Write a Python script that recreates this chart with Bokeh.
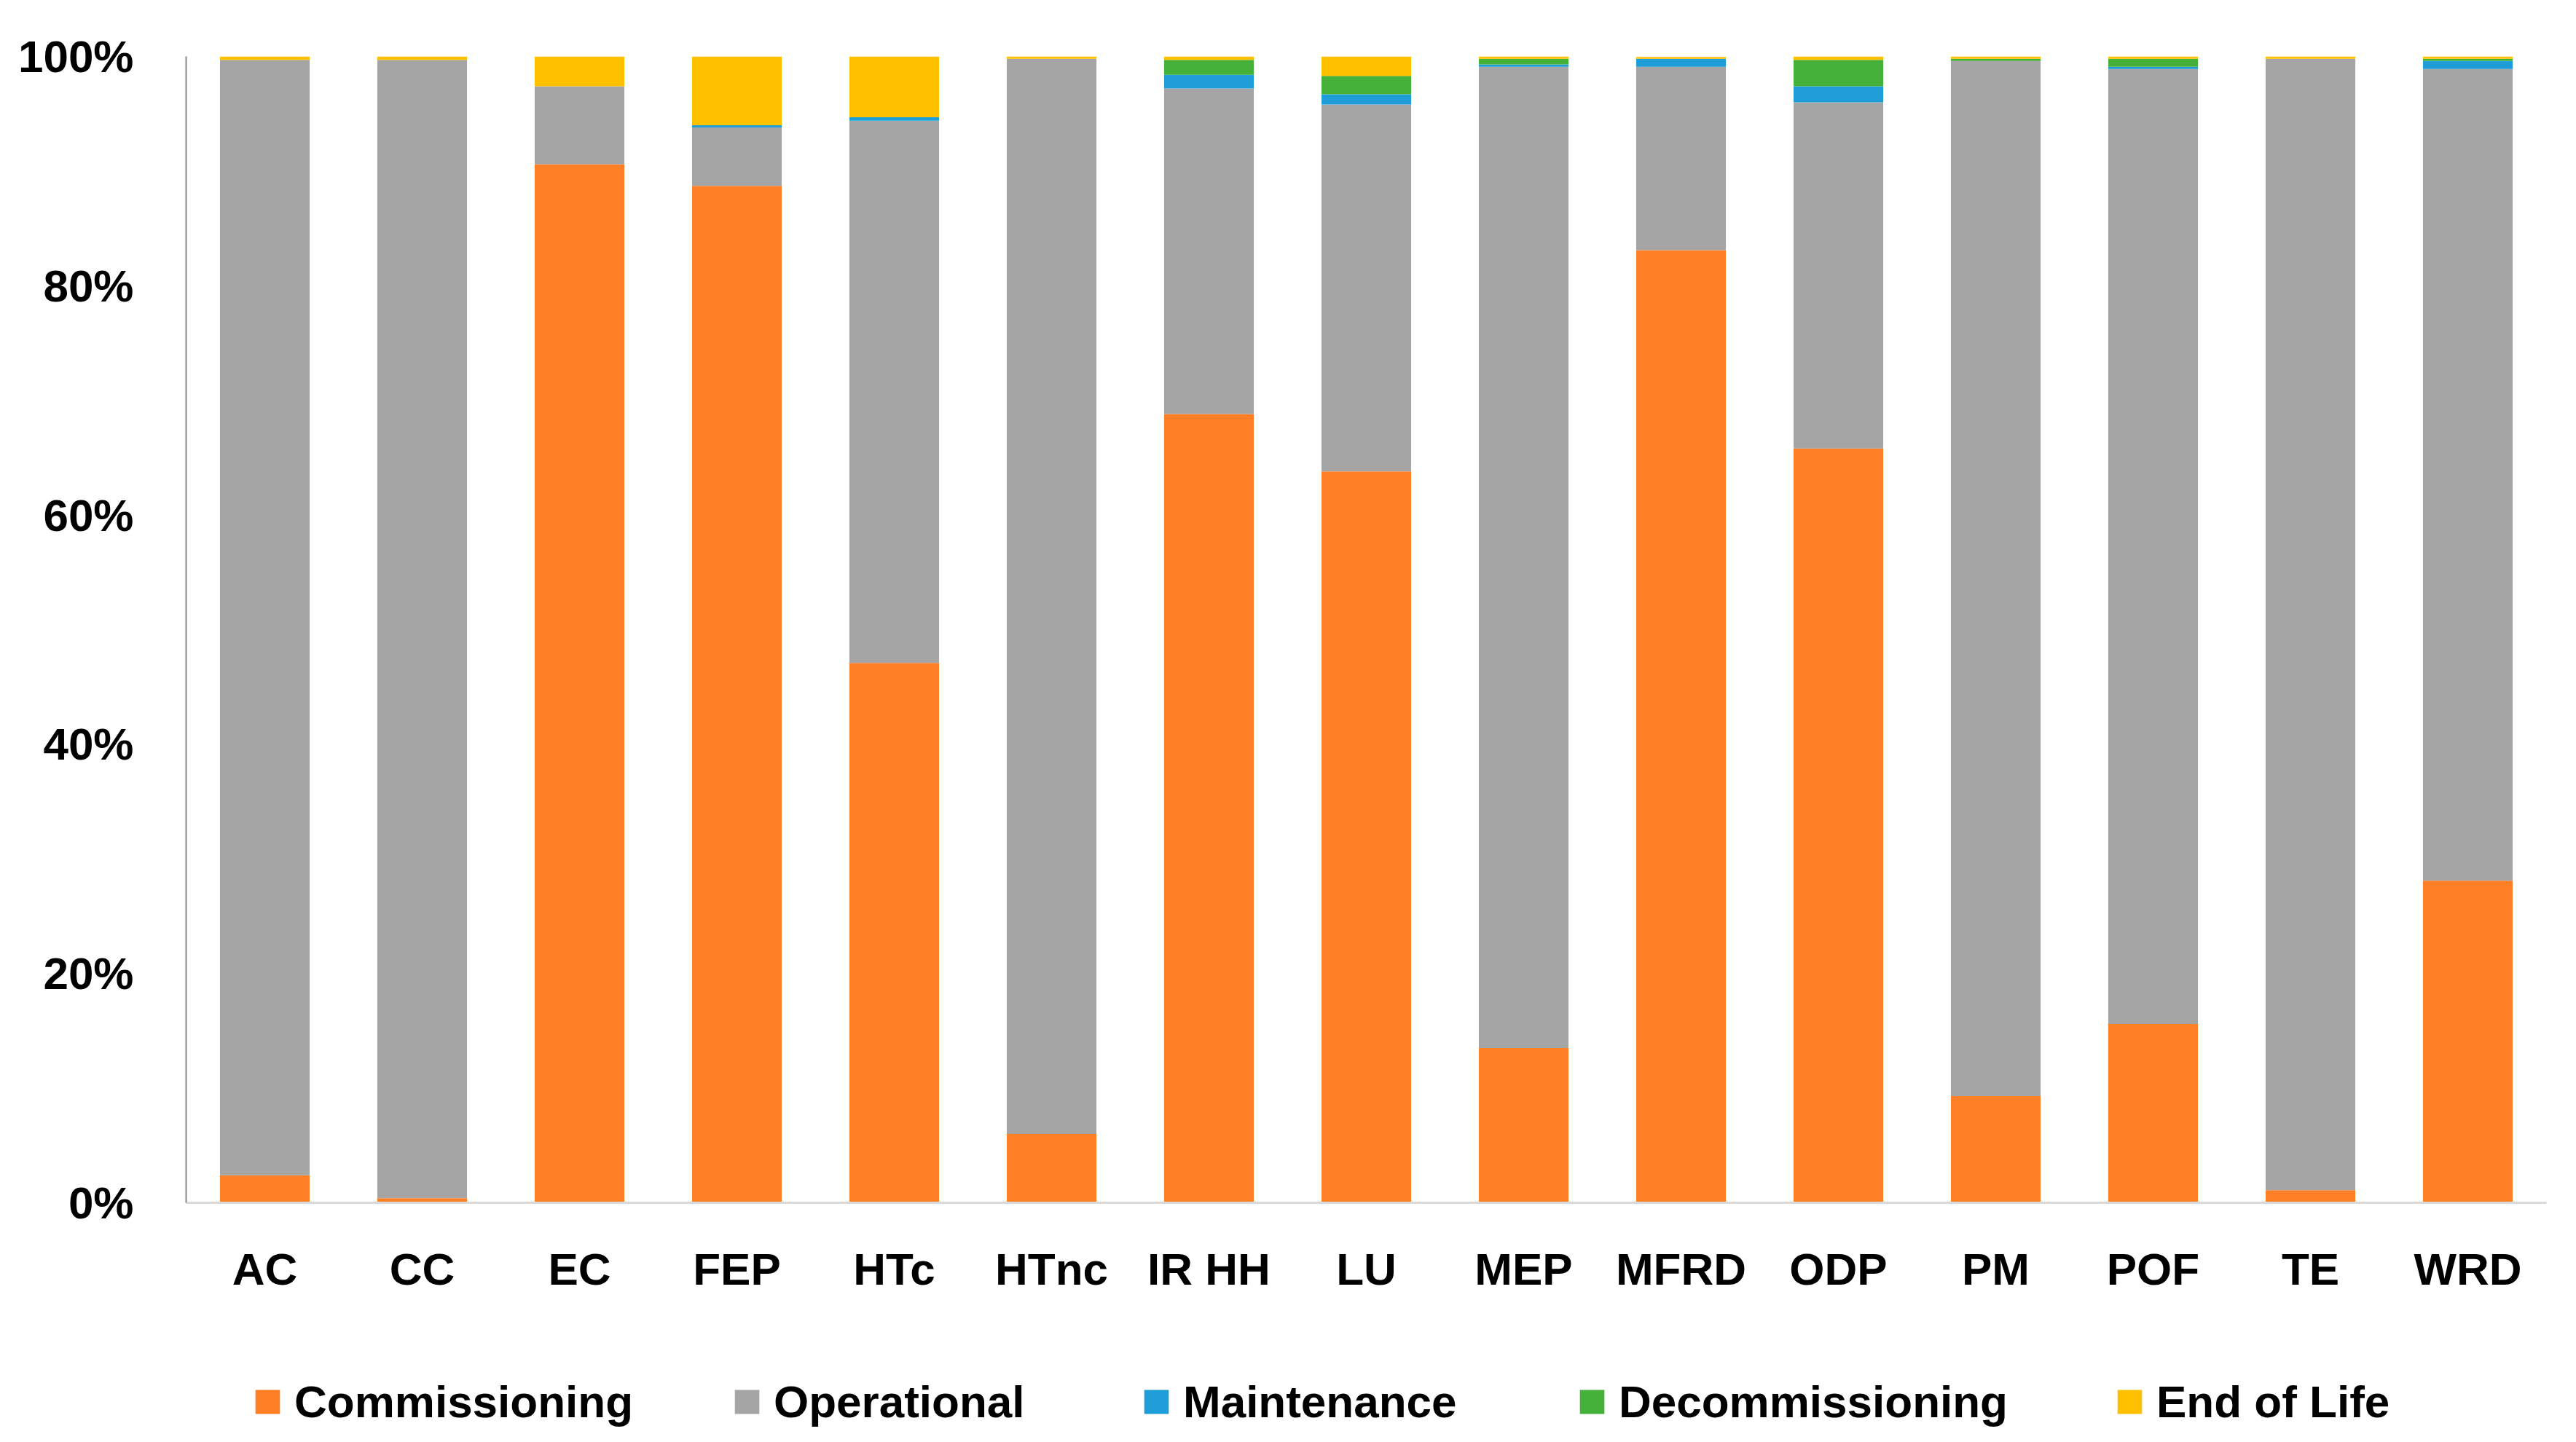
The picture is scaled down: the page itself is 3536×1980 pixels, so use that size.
from bokeh.plotting import figure
from bokeh.layouts import column
from bokeh.models import ColumnDataSource, FixedTicker, PrintfTickFormatter, Legend, LegendItem, Range1d
from bokeh.embed import file_html
from bokeh.resources import INLINE

categories = ["AC", "CC", "EC", "FEP", "HTc", "HTnc", "IR HH", "LU", "MEP", "MFRD", "ODP", "PM", "POF", "TE", "WRD"]
commissioning = [2.4, 0.4, 90.6, 88.7, 47.1, 6.0, 68.8, 63.8, 13.5, 83.1, 65.8, 9.3, 15.6, 1.1, 28.1]
operational = [97.3, 99.3, 6.8, 5.1, 47.3, 93.8, 28.4, 32.0, 85.6, 16.0, 30.2, 90.3, 83.3, 98.7, 70.8]
maintenance = [0.0, 0.0, 0.0, 0.2, 0.3, 0.0, 1.2, 0.9, 0.2, 0.7, 1.4, 0.0, 0.2, 0.0, 0.7]
decommissioning = [0.0, 0.0, 0.0, 0.0, 0.0, 0.0, 1.3, 1.6, 0.5, 0.0, 2.3, 0.2, 0.7, 0.0, 0.2]
end_of_life = [0.3, 0.3, 2.6, 6.0, 5.3, 0.2, 0.3, 1.7, 0.2, 0.15, 0.35, 0.2, 0.2, 0.2, 0.2]
series_names = ["Commissioning", "Operational", "Maintenance", "Decommissioning", "End of Life"]
y_ticks = [0, 20, 40, 60, 80, 100]

colors = ["#FF7F27", "#A5A5A5", "#1F9DD9", "#45B03A", "#FFC000"]
keys = ["commissioning", "operational", "maintenance", "decommissioning", "end_of_life"]
legend_x = [91, 749, 1311, 1909, 2647]

source = ColumnDataSource(data=dict(
    cat=categories,
    commissioning=commissioning,
    operational=operational,
    maintenance=maintenance,
    decommissioning=decommissioning,
    end_of_life=end_of_life,
))

W = 3520
H1 = 1780
H2 = 190
p = figure(x_range=categories, y_range=Range1d(0, 100), width=W, height=H1,
           output_backend="svg", toolbar_location=None,
           min_border_left=255, min_border_right=25, min_border_top=77, min_border_bottom=H1 - 77 - 1574)

p.vbar_stack(keys, x="cat", width=0.57, source=source, color=colors, line_color=None)

FONT = "Liberation Sans"
FS = "62px"

p.xgrid.grid_line_color = None
p.ygrid.grid_line_color = None
p.outline_line_color = None

p.yaxis.ticker = FixedTicker(ticks=y_ticks)
p.yaxis.formatter = PrintfTickFormatter(format="%d%%")
p.yaxis.axis_line_color = "#868686"
p.yaxis.axis_line_width = 2
p.yaxis.major_tick_line_color = None
p.yaxis.minor_tick_line_color = None
p.yaxis.major_label_standoff = 66
p.yaxis.major_label_text_font = FONT
p.yaxis.major_label_text_font_size = FS
p.yaxis.major_label_text_font_style = "bold"
p.yaxis.major_label_text_color = "#000000"

p.xaxis.axis_line_color = "#D9D9D9"
p.xaxis.axis_line_width = 3
p.xaxis.major_tick_line_color = None
p.xaxis.minor_tick_line_color = None
p.xaxis.major_label_standoff = 50
p.xaxis.major_label_text_font = FONT
p.xaxis.major_label_text_font_size = FS
p.xaxis.major_label_text_font_style = "bold"
p.xaxis.major_label_text_color = "#000000"

# legend panel (separate figure below the chart)
p2 = figure(width=W, height=H2, x_range=Range1d(0, W), y_range=Range1d(0, H2),
            output_backend="svg", toolbar_location=None,
            x_axis_type=None, y_axis_type=None,
            min_border_left=0, min_border_right=0, min_border_top=0, min_border_bottom=0)
p2.xgrid.grid_line_color = None
p2.ygrid.grid_line_color = None
p2.outline_line_color = None

for name, c, lx in zip(series_names, colors, legend_x):
    # legend-only proxy renderer, placed outside the visible range
    r = p2.vbar(x=[-1000], top=[-1000], bottom=[-1001], width=1, color=c, line_color=None)
    lg = Legend(items=[LegendItem(label=name, renderers=[r])], orientation="horizontal",
                location=(lx, 10),
                glyph_width=42, glyph_height=41, label_standoff=16,
                padding=0, margin=0, border_line_color=None, background_fill_alpha=0,
                label_text_font=FONT, label_text_font_size=FS, label_text_font_style="bold",
                label_text_color="#000000")
    p2.add_layout(lg, "center")

layout = column(p, p2, spacing=0)
open("out.html", "w").write(file_html(layout, INLINE))
